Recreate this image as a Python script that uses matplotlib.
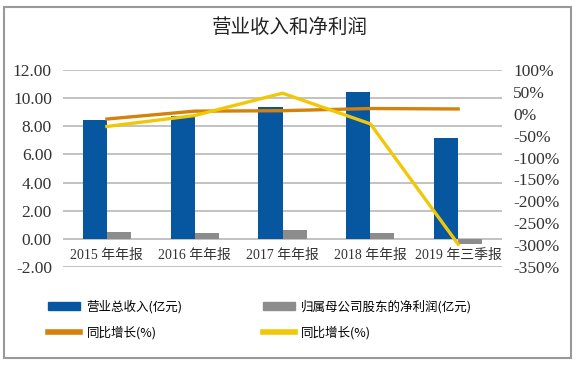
import numpy as np
import matplotlib.pyplot as plt
from matplotlib.patches import Rectangle, Patch
from matplotlib.lines import Line2D

plt.rcParams['font.family'] = ['Liberation Serif', 'Noto Sans CJK SC', 'DejaVu Sans']
plt.rcParams['axes.unicode_minus'] = True

# dados
categorias = ['2015 年年报', '2016 年年报', '2017 年年报', '2018 年年报', '2019 年三季报']
receita = [8.42, 8.75, 9.38, 10.47, 7.18]          # 营业总收入(亿元)
lucro = [0.47, 0.40, 0.60, 0.45, -0.38]            # 归属母公司股东的净利润(亿元)
cresc_receita = [-12, 6, 7, 12, 11]                # 同比增长(%)
cresc_lucro = [-29, -4, 47, -23, -298]             # 同比增长(%)

azul = '#0656a0'
cinza = '#8c8c8c'
laranja = '#d4820c'
amarelo = '#f0c808'

fig = plt.figure(figsize=(5.8, 3.68), dpi=100)
ax1 = fig.add_axes([0.1086, 0.2745, 0.757, 0.5353])
ax2 = ax1.twinx()

x = np.arange(len(categorias))
w = 0.275
ax1.bar(x - w / 2, receita, w, color=azul, zorder=3)
ax1.bar(x + w / 2, lucro, w, color=cinza, zorder=3)

ax1.set_xlim(-0.5, len(categorias) - 0.5)
ax1.set_ylim(-2, 12)
ax1.set_yticks(np.arange(-2, 12.1, 2))
ax1.set_yticklabels([f'{v:.2f}' for v in np.arange(-2, 12.1, 2)])
ax1.yaxis.grid(True, color='#bdbdbd', lw=1.3)
ax1.set_axisbelow(True)
ax1.set_xticks([])
ax1.tick_params(axis='y', length=0, labelsize=12.5, pad=8)

for i, c in enumerate(categorias):
    ax1.text(i, -1.15, c, ha='center', va='center', fontsize=10, color='#333333')

ax2.plot(x, cresc_receita, color=laranja, lw=2.4, zorder=4)
ax2.plot(x, cresc_lucro, color=amarelo, lw=2.4, zorder=5)
ax2.set_ylim(-350, 100)
ax2.set_yticks(np.arange(-350, 101, 50))
ax2.set_yticklabels([f'{v}%' for v in np.arange(-350, 101, 50)])
ax2.tick_params(axis='y', length=0, labelsize=12.5, pad=8)

for a in (ax1, ax2):
    for s in a.spines.values():
        s.set_visible(False)
    for lbl in a.get_yticklabels():
        lbl.set_color('#333333')

fig.text(0.5, 0.926, '营业收入和净利润', ha='center', va='center', fontsize=14,
         family=['Noto Sans CJK SC'], weight='medium', color='#222222')

handles = [Patch(color=azul), Line2D([], [], color=laranja, lw=4),
           Patch(color=cinza), Line2D([], [], color=amarelo, lw=4)]
labels = ['营业总收入(亿元)', '同比增长(%)', '归属母公司股东的净利润(亿元)', '同比增长(%)']
fig.legend(handles, labels, ncol=2, loc='upper left', bbox_to_anchor=(0.063, 0.215),
           frameon=False, handlelength=2.6, handleheight=0.6,
           handletextpad=0.5, columnspacing=6.4, labelspacing=0.95,
           prop={'family': ['Noto Sans CJK SC'], 'size': 9})

fig.patches.append(Rectangle((0.007, 0.027), 0.978, 0.953, transform=fig.transFigure,
                             fill=False, edgecolor='#999999', lw=1.5))

fig.savefig('out.png', dpi=100)
